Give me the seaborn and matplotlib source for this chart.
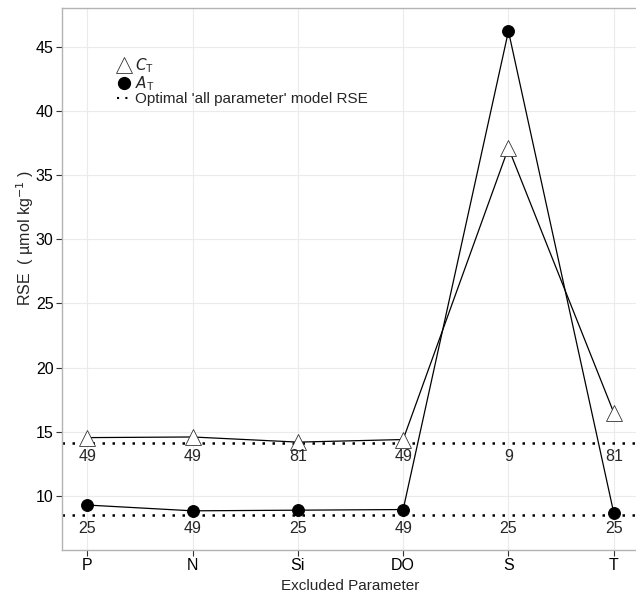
import matplotlib
matplotlib.use("Agg")
import matplotlib.pyplot as plt
import seaborn as sns
import pandas as pd
from matplotlib.lines import Line2D

params = ["P", "N", "Si", "DO", "S", "T"]
ct_rse = [14.55, 14.6, 14.2, 14.4, 37.1, 16.5]
at_rse = [9.3, 8.85, 8.9, 8.95, 46.2, 8.7]
ct_n = ["49", "49", "81", "49", "9", "81"]
at_n = ["25", "49", "25", "49", "25", "25"]
ct_optimal = 14.15
at_optimal = 8.55

sns.set_theme(style="whitegrid")
plt.rcParams['font.family'] = ['Liberation Sans', 'DejaVu Sans']

df = pd.DataFrame({
    "idx": list(range(len(params))) * 2,
    "RSE": ct_rse + at_rse,
    "var": ["CT"] * len(params) + ["AT"] * len(params),
})

fig = plt.figure(figsize=(6.36, 5.98), dpi=100)
ax = fig.add_axes([62/636, 48/598, (639-62)/636, (550-8)/598])

ax.axhline(ct_optimal, color="black", lw=1.8, ls=(0, (1, 3)), zorder=2)
ax.axhline(at_optimal, color="black", lw=1.8, ls=(0, (1, 3)), zorder=2)

sns.lineplot(data=df[df["var"] == "CT"], x="idx", y="RSE", ax=ax, color="black",
             lw=0.9, marker="^", markersize=11, markerfacecolor="white",
             markeredgecolor="#333333", markeredgewidth=0.6, zorder=3)
sns.lineplot(data=df[df["var"] == "AT"], x="idx", y="RSE", ax=ax, color="black",
             lw=0.9, marker="o", markersize=8.5, markerfacecolor="black",
             markeredgecolor="black", zorder=3)

for i, (a, b) in enumerate(zip(ct_n, at_n)):
    ax.text(i, 13.05, a, ha="center", va="center", fontsize=11.5)
    ax.text(i, 7.5, b, ha="center", va="center", fontsize=11.5)

ax.set_xlim(-0.24, 5.24)
ax.set_ylim(5.8, 48.0)
ax.set_xticks(range(len(params)))
ax.set_xticklabels(params)
ax.set_yticks([10, 15, 20, 25, 30, 35, 40, 45])
ax.tick_params(axis="both", labelsize=11.5, colors="#333333", length=4, width=0.8,
               direction="out", bottom=True, left=True, pad=2, labelcolor="black")
ax.grid(True, color="#ebebeb", lw=0.8)
for s in ax.spines.values():
    s.set_color("#b3b3b3")
    s.set_linewidth(1.0)

ax.set_xlabel("Excluded Parameter", fontsize=11)
ax.set_ylabel("RSE  ( µmol kg$^{-1}$ )", fontsize=11.5)
ax.yaxis.set_label_coords(-0.045, 0.575)

handles = [
    Line2D([], [], ls="none", marker="^", markersize=11, markerfacecolor="white",
           markeredgecolor="#333333", markeredgewidth=0.6),
    Line2D([], [], ls="none", marker="o", markersize=8.5, color="black"),
    Line2D([], [], color="black", lw=1.5, ls=(0, (1, 3))),
]
labels = ["$C_\\mathregular{T}$", "$A_\\mathregular{T}$", "Optimal 'all parameter' model RSE"]
leg = ax.legend(handles, labels, loc="upper left", bbox_to_anchor=(0.085, 0.922),
                frameon=False, fontsize=11, handlelength=0.9, handletextpad=0.3,
                labelspacing=-0.05, borderaxespad=0)

fig.savefig("out.png", dpi=100)
